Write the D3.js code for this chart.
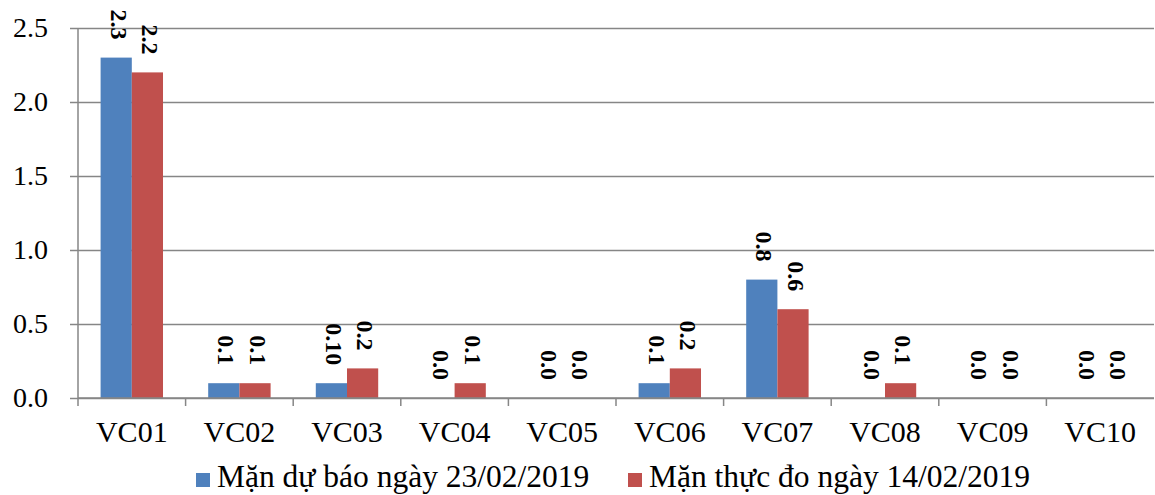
<!DOCTYPE html>
<html>
<head>
<meta charset="utf-8">
<script src="https://cdn.jsdelivr.net/npm/d3@7"></script>
<style>
  html, body { margin: 0; padding: 0; background: #fff; }
  text { font-family: "Liberation Serif", "Times New Roman", serif; }
</style>
</head>
<body>
<div id="chart"></div>
<script>
// ---- Data -------------------------------------------------------------
const categories = ['VC01', 'VC02', 'VC03', 'VC04', 'VC05', 'VC06', 'VC07', 'VC08', 'VC09', 'VC10'];
const seriesNames = ['Mặn dự báo ngày 23/02/2019', 'Mặn thực đo ngày 14/02/2019'];
const forecast = [2.3, 0.1, 0.1, 0, 0, 0.1, 0.8, 0, 0, 0];
const measured = [2.2, 0.1, 0.2, 0.1, 0, 0.2, 0.6, 0.1, 0, 0];
const forecastLabels = ['2.3', '0.1', '0.10', '0.0', '0.0', '0.1', '0.8', '0.0', '0.0', '0.0'];
const measuredLabels = ['2.2', '0.1', '0.2', '0.1', '0.0', '0.2', '0.6', '0.1', '0.0', '0.0'];
const yTicks = [0, 0.5, 1.0, 1.5, 2.0, 2.5];
const colors = ['#4F81BD', '#C0504D'];

function draw() {
  const dimensions = {
    width: 1155,
    height: 495,
    margin: { top: 28, right: 1, bottom: 97, left: 78 }
  };
  dimensions.ctrWidth  = dimensions.width  - dimensions.margin.left - dimensions.margin.right;
  dimensions.ctrHeight = dimensions.height - dimensions.margin.top  - dimensions.margin.bottom;

  const svg = d3.select('#chart')
    .append('svg')
    .attr('width', dimensions.width)
    .attr('height', dimensions.height);

  const ctr = svg.append('g')
    .attr('transform', `translate(${dimensions.margin.left},${dimensions.margin.top})`);

  // ---- Scales -----------------------------------------------------------
  const xScale = d3.scaleBand()
    .domain(categories)
    .range([0, dimensions.ctrWidth])
    .paddingInner(0)
    .paddingOuter(0);

  const groupWidth = xScale.bandwidth() * 0.58;
  const xInner = d3.scaleBand()
    .domain([0, 1])
    .range([(xScale.bandwidth() - groupWidth) / 2, (xScale.bandwidth() + groupWidth) / 2]);

  const yScale = d3.scaleLinear()
    .domain([0, 2.5])
    .range([dimensions.ctrHeight, 0]);

  // ---- Grid + y axis ----------------------------------------------------
  const yAxis = d3.axisLeft(yScale)
    .tickValues(yTicks)
    .tickFormat(d3.format('.1f'))
    .tickSize(-dimensions.ctrWidth - 8)
    .tickPadding(22);

  const yAxisGroup = ctr.append('g')
    .attr('transform', 'translate(-8,0)')
    .call(yAxis);
  yAxisGroup.select('.domain').remove();
  yAxisGroup.selectAll('.tick line').attr('stroke', '#868686').attr('stroke-width', 1.5);
  yAxisGroup.selectAll('.tick text')
    .attr('fill', '#000')
    .style('font-size', '28px')
    .style('font-family', '"Liberation Serif", "Times New Roman", serif');

  ctr.append('line')
    .attr('x1', 0).attr('x2', 0)
    .attr('y1', 0).attr('y2', dimensions.ctrHeight)
    .attr('stroke', '#868686').attr('stroke-width', 1.5);

  // ---- Bars -------------------------------------------------------------
  const rows = categories.map((c, i) => ({
    cat: c,
    values: [
      { s: 0, v: forecast[i], label: forecastLabels[i] },
      { s: 1, v: measured[i], label: measuredLabels[i] }
    ]
  }));

  const groups = ctr.selectAll('g.group')
    .data(rows)
    .join('g')
    .classed('group', true)
    .attr('transform', d => `translate(${xScale(d.cat)},0)`);

  groups.selectAll('rect')
    .data(d => d.values)
    .join('rect')
    .attr('x', d => xInner(d.s))
    .attr('width', xInner.bandwidth())
    .attr('y', d => yScale(d.v))
    .attr('height', d => dimensions.ctrHeight - yScale(d.v))
    .attr('fill', d => colors[d.s]);

  groups.selectAll('text.val')
    .data(d => d.values)
    .join('text')
    .classed('val', true)
    .attr('transform', d => `translate(${xInner(d.s) + xInner.bandwidth() / 2},${yScale(d.v) - 18}) rotate(90)`)
    .attr('text-anchor', 'end')
    .attr('dominant-baseline', 'middle')
    .style('font-size', '24px')
    .style('font-weight', 'bold')
    .attr('fill', '#000')
    .text(d => d.label);

  // ---- x axis -----------------------------------------------------------
  const xAxisGroup = ctr.append('g')
    .attr('transform', `translate(0,${dimensions.ctrHeight})`);

  xAxisGroup.append('line')
    .attr('x1', 0).attr('x2', dimensions.ctrWidth)
    .attr('stroke', '#868686').attr('stroke-width', 1.5);

  xAxisGroup.selectAll('line.tick')
    .data(categories)
    .join('line')
    .classed('tick', true)
    .attr('x1', d => xScale(d)).attr('x2', d => xScale(d))
    .attr('y1', 0).attr('y2', 8)
    .attr('stroke', '#868686').attr('stroke-width', 1.5);

  xAxisGroup.selectAll('text')
    .data(categories)
    .join('text')
    .attr('x', d => xScale(d) + xScale.bandwidth() / 2)
    .attr('y', 44)
    .attr('text-anchor', 'middle')
    .style('font-size', '30px')
    .attr('fill', '#000')
    .text(d => d);

  // ---- Legend -----------------------------------------------------------
  const legendX = [196, 628];
  const legend = svg.selectAll('g.legend')
    .data(seriesNames)
    .join('g')
    .classed('legend', true)
    .attr('transform', (d, i) => `translate(${legendX[i]},487)`);

  legend.append('rect')
    .attr('x', 0).attr('y', -14)
    .attr('width', 14).attr('height', 14)
    .attr('fill', (d, i) => colors[i]);

  legend.append('text')
    .attr('x', 21)
    .attr('y', 0)
    .style('font-size', '31.5px')
    .attr('fill', '#000')
    .text(d => d);
}

draw();
</script>
</body>
</html>
